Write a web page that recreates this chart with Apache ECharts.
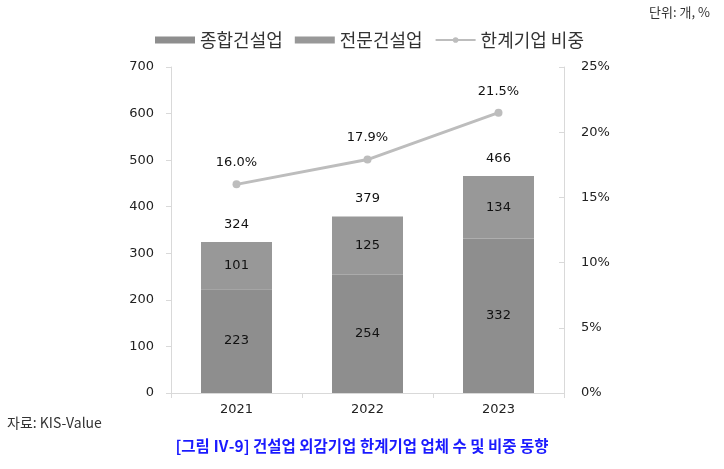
<!DOCTYPE html>
<html>
<head>
    <meta charset="utf-8">
    <title>건설업 외감기업 한계기업</title>
    <script src="https://cdn.jsdelivr.net/npm/echarts@6/dist/echarts.min.js"></script>
    <style>
        body { margin: 0; background: #fff; }
        #chart { width: 724px; height: 469px; }
    </style>
</head>
<body>
<div id="chart"></div>
<script type="text/javascript">
    // 데이터
    var years = ['2021', '2022', '2023'];
    var general = [223, 254, 332];      // 종합건설업
    var special = [101, 125, 134];      // 전문건설업
    var totals = [324, 379, 466];
    var ratio = [16.0, 17.9, 21.5];     // 한계기업 비중(%)

    var numFont = 'DejaVu Sans';
    var krFont = 'Noto Sans CJK KR';

    var myChart = echarts.init(document.getElementById('chart'));
    myChart.setOption({
        animation: false,
        graphic: [
            { type: 'text', right: 14, top: 6,
              style: { text: '단위: 개, %', font: '13px "Noto Sans CJK KR"', fill: '#333' } },
            { type: 'text', left: 7, top: 416,
              style: { text: '자료: KIS-Value', font: '14px "Noto Sans CJK KR"', fill: '#333' } },
            { type: 'text', left: 'center', top: 438,
              style: { text: '[그림 Ⅳ-9] 건설업 외감기업 한계기업 업체 수 및 비중 동향',
                       font: 'bold 15.5px "Noto Sans CJK KR"', fill: '#1a1aff' } }
        ],
        legend: {
            top: 26,
            left: 150,
            itemWidth: 40,
            itemHeight: 7,
            itemGap: 12,
            textStyle: { fontFamily: krFont, fontSize: 18, color: '#333' },
            data: [
                { name: '종합건설업', icon: 'rect' },
                { name: '전문건설업', icon: 'rect' },
                { name: '한계기업 비중' }
            ]
        },
        grid: { left: 171, right: 160, top: 67, bottom: 76 },
        xAxis: {
            type: 'category',
            data: years,
            axisLine: { lineStyle: { color: '#d9d9d9' } },
            axisTick: { show: true, length: 5, lineStyle: { color: '#d9d9d9' } },
            axisLabel: { fontFamily: numFont, fontSize: 13, color: '#222', margin: 10 }
        },
        yAxis: [
            {
                type: 'value', min: 0, max: 700, interval: 100,
                axisLine: { show: true, lineStyle: { color: '#d9d9d9' } },
                axisTick: { show: true, length: 5, lineStyle: { color: '#d9d9d9' } },
                splitLine: { show: false },
                axisLabel: { fontFamily: numFont, fontSize: 13, color: '#222', margin: 17 }
            },
            {
                type: 'value', min: 0, max: 25, interval: 5,
                axisLine: { show: true, lineStyle: { color: '#d9d9d9' } },
                axisTick: { show: true, inside: true, length: 5, lineStyle: { color: '#d9d9d9' } },
                splitLine: { show: false },
                axisLabel: { fontFamily: numFont, fontSize: 13, color: '#222', margin: 17, formatter: '{value}%' }
            }
        ],
        series: [
            {
                name: '종합건설업', type: 'bar', stack: 'cnt', barWidth: 71,
                data: general,
                itemStyle: { color: '#8e8e8e' },
                label: { show: true, position: 'inside', fontFamily: numFont, fontSize: 13, color: '#111' }
            },
            {
                name: '전문건설업', type: 'bar', stack: 'cnt',
                data: special,
                itemStyle: { color: '#989898' },
                label: { show: true, position: 'inside', fontFamily: numFont, fontSize: 13, color: '#111' }
            },
            {
                name: '합계', type: 'bar', barWidth: 71, barGap: '-100%',
                data: totals,
                itemStyle: { color: 'rgba(0,0,0,0)' },
                z: 1,
                label: { show: true, position: 'top', distance: 11, fontFamily: numFont, fontSize: 13, color: '#111' }
            },
            {
                name: '한계기업 비중', type: 'line', yAxisIndex: 1,
                data: ratio,
                symbol: 'circle', symbolSize: 8,
                lineStyle: { color: '#bdbdbd', width: 3 },
                itemStyle: { color: '#bdbdbd' },
                label: {
                    show: true, position: 'top', distance: 11,
                    fontFamily: numFont, fontSize: 13, color: '#111',
                    formatter: function (p) { return p.value.toFixed(1) + '%'; }
                }
            }
        ]
    });
</script>
</body>
</html>
